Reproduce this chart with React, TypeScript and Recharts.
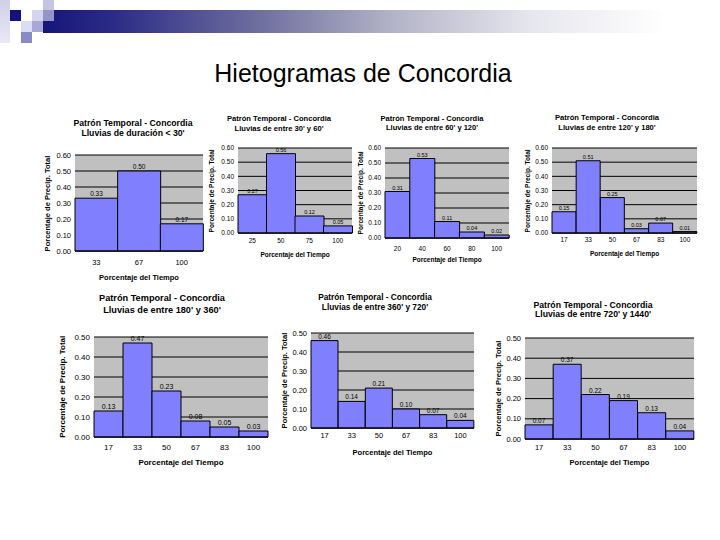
import React from "react";
import { BarChart, Bar, XAxis, YAxis, CartesianGrid, LabelList } from "recharts";

const FONT = "'Liberation Sans', Arial, sans-serif";

const mainTitle = "Hietogramas de Concordia";
const chartTitle = "Patrón Temporal - Concordia";
const xTitle = "Porcentaje del Tiempo";
const yTitle = "Porcentaje de Precip. Total";

const ticks60 = [0, 0.1, 0.2, 0.3, 0.4, 0.5, 0.6];
const ticks50 = [0, 0.1, 0.2, 0.3, 0.4, 0.5];

// categorias (porcentaje del tiempo) y valores de cada hietograma
const cats30 = ["33", "67", "100"];
const vals30 = [0.33, 0.5, 0.17];

const cats60 = ["25", "50", "75", "100"];
const vals60 = [0.27, 0.56, 0.12, 0.05];

const cats120 = ["20", "40", "60", "80", "100"];
const vals120 = [0.31, 0.53, 0.11, 0.04, 0.02];

const cats6 = ["17", "33", "50", "67", "83", "100"];
const vals180 = [0.15, 0.51, 0.25, 0.03, 0.07, 0.01];
const vals360 = [0.13, 0.47, 0.23, 0.08, 0.05, 0.03];
const vals720 = [0.46, 0.14, 0.21, 0.1, 0.07, 0.04];
const vals1440 = [0.07, 0.37, 0.22, 0.19, 0.13, 0.04];

interface HistProps {
    line2: string;
    cats: string[];
    vals: number[];
    ticks: number[];
    plotLeft: number;
    plotTop: number;
    plotW: number;
    plotH: number;
    titleX: number;
    titleY: number;
    titleGap: number;
    titleSize: number;
    fs: number;
    tickGap: number;
    axisTitleY: number;
    yTitleX: number;
}

const YW = 24;
const MT = 9;

const Hist = (p: HistProps) => {
    const data = p.cats.map((c, i) => ({ cat: c, v: p.vals[i] }));
    const xh = p.tickGap + 8;
    const ymax = p.ticks[p.ticks.length - 1];
    const cx = p.plotLeft + p.plotW / 2;
    const cy = p.plotTop + p.plotH / 2;
    const bold: React.CSSProperties = { position: "absolute", fontFamily: FONT, fontWeight: "bold", whiteSpace: "nowrap", color: "#000" };
    return (
        <>
            <div style={{ ...bold, left: p.titleX - 100, width: 200, textAlign: "center", top: p.titleY - p.titleSize * 0.6, fontSize: p.titleSize, lineHeight: `${p.titleGap}px` }}>
                <div>{chartTitle}</div>
                <div>{p.line2}</div>
            </div>
            <div style={{ position: "absolute", left: p.plotLeft - YW, top: p.plotTop - MT }}>
                <BarChart
                    width={YW + p.plotW + 2}
                    height={MT + p.plotH + xh}
                    data={data}
                    margin={{ top: MT, right: 2, left: 0, bottom: 0 }}
                    barCategoryGap={0}
                    style={{ fontFamily: FONT }}
                >
                    <CartesianGrid vertical={false} stroke="#000" fill="#c0c0c0" fillOpacity={1} />
                    <XAxis
                        dataKey="cat"
                        height={xh}
                        interval={0}
                        tickLine={false}
                        tickSize={0}
                        tickMargin={p.tickGap - p.fs * 0.55}
                        axisLine={{ stroke: "#000" }}
                        tick={{ fontSize: p.fs, fill: "#000" }}
                    />
                    <YAxis
                        width={YW}
                        domain={[0, ymax]}
                        ticks={p.ticks}
                        interval={0}
                        tickFormatter={(v: number) => v.toFixed(2)}
                        axisLine={false}
                        tickLine={false}
                        tickSize={0}
                        tickMargin={4}
                        tick={{ fontSize: p.fs, fill: "#000" }}
                    />
                    <Bar dataKey="v" fill="#8080ff" stroke="#000" strokeWidth={1} isAnimationActive={false}>
                        <LabelList
                            dataKey="v"
                            position="top"
                            offset={2}
                            formatter={(v: number) => v.toFixed(2)}
                            style={{ fontSize: p.fs - 1, fill: "#000" }}
                        />
                    </Bar>
                </BarChart>
            </div>
            <div style={{ ...bold, left: cx - 100, width: 200, textAlign: "center", top: p.axisTitleY - p.fs * 0.6, fontSize: p.fs, lineHeight: "1.2" }}>
                {xTitle}
            </div>
            <div
                style={{
                    ...bold,
                    left: p.yTitleX - 100,
                    top: cy - p.fs * 0.6,
                    width: 200,
                    textAlign: "center",
                    fontSize: p.fs,
                    lineHeight: "1.2",
                    transform: "rotate(-90deg)",
                }}
            >
                {yTitle}
            </div>
        </>
    );
};

const sq = (left: number, top: number, bg: string): React.CSSProperties => ({
    position: "absolute",
    left,
    top,
    width: 11,
    height: 11,
    background: bg,
});

export default function App() {
    return (
        <div style={{ position: "absolute", left: 0, top: 0, width: 720, height: 540, background: "#fff", overflow: "hidden" }}>
            <div style={{ position: "absolute", left: 43, top: 10, width: 677, height: 23, background: "linear-gradient(to right, #16167a 0%, #2a2a86 10%, #6f6f9f 32%, #b4b4c8 52%, #e6e6ee 72%, #ffffff 92%)" }} />
            <div style={{ position: "absolute", left: 0, top: 0, width: 10, height: 43, background: "linear-gradient(to bottom, #d0d0ec, #e8e8f6)" }} />
            <div style={sq(10, 10, "#12127c")} />
            <div style={sq(32, 10, "#d4d4ee")} />
            <div style={sq(43, 0, "#c4c4e4")} />
            <div style={sq(43, 10, "#9494c8")} />
            <div style={sq(21, 21, "#dcdcf2")} />
            <div style={sq(32, 21, "#a8a8d8")} />
            <div style={sq(21, 32, "#8a8ac4")} />
            <div style={{ position: "absolute", left: 0, top: 73 - 15, width: 726, textAlign: "center", fontFamily: FONT, fontSize: 25, lineHeight: "30px", color: "#000" }}>
                {mainTitle}
            </div>

            <Hist line2="Lluvias de duración < 30'" cats={cats30} vals={vals30} ticks={ticks60}
                plotLeft={75} plotTop={155} plotW={128} plotH={96} titleX={133} titleY={123} titleGap={10} titleSize={8.7}
                fs={7.5} tickGap={13} axisTitleY={277} yTitleX={47} />
            <Hist line2="Lluvias de entre 30' y 60'" cats={cats60} vals={vals60} ticks={ticks60}
                plotLeft={238} plotTop={148} plotW={114} plotH={85} titleX={279} titleY={119} titleGap={10} titleSize={7.6}
                fs={6.5} tickGap={9} axisTitleY={255} yTitleX={212} />
            <Hist line2="Lluvias de entre 60' y 120'" cats={cats120} vals={vals120} ticks={ticks60}
                plotLeft={385} plotTop={148} plotW={124} plotH={90} titleX={432} titleY={118} titleGap={9.5} titleSize={7.5}
                fs={6.5} tickGap={12} axisTitleY={260} yTitleX={361} />
            <Hist line2="Lluvias de entre 120' y 180'" cats={cats6} vals={vals180} ticks={ticks60}
                plotLeft={552} plotTop={148} plotW={145} plotH={85} titleX={607} titleY={118} titleGap={10} titleSize={7.6}
                fs={6.5} tickGap={8} axisTitleY={254} yTitleX={528} />
            <Hist line2="Lluvias de entre 180' y 360'" cats={cats6} vals={vals360} ticks={ticks50}
                plotLeft={94} plotTop={337} plotW={174} plotH={100} titleX={162} titleY={298} titleGap={12} titleSize={9.2}
                fs={8} tickGap={12} axisTitleY={463} yTitleX={63} />
            <Hist line2="Lluvias de entre 360' y 720'" cats={cats6} vals={vals720} ticks={ticks50}
                plotLeft={311} plotTop={333} plotW={163} plotH={95} titleX={375} titleY={297} titleGap={10} titleSize={8.3}
                fs={7.5} tickGap={9} axisTitleY={452} yTitleX={284} />
            <Hist line2="Lluvias de entre 720' y 1440'" cats={cats6} vals={vals1440} ticks={ticks50}
                plotLeft={525} plotTop={338} plotW={169} plotH={101} titleX={593} titleY={306} titleGap={9.5} titleSize={8.7}
                fs={7.5} tickGap={10} axisTitleY={462} yTitleX={498} />
        </div>
    );
}
